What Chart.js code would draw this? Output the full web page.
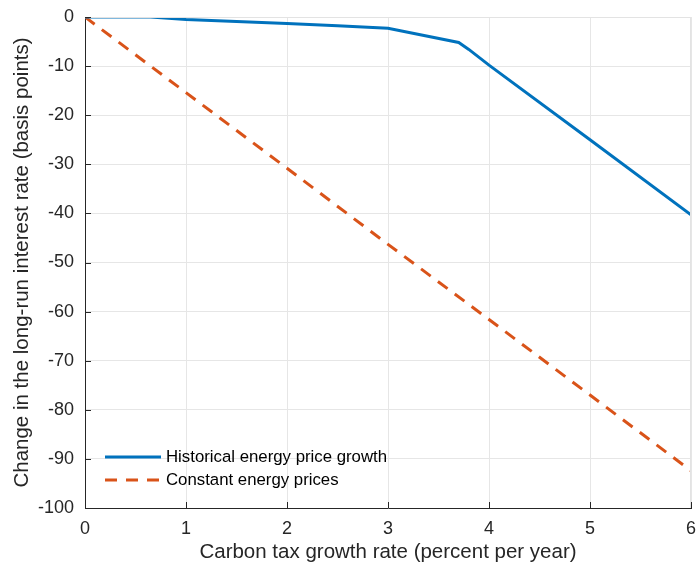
<!DOCTYPE html>
<html>
<head>
<meta charset="utf-8">
<script src="https://cdn.jsdelivr.net/npm/chart.js@4"></script>
<style>
  html, body { margin: 0; padding: 0; background: #fff; }
  #wrap { width: 696px; height: 565px; }
</style>
</head>
<body>
<div id="wrap"><canvas id="chart" width="696" height="565"></canvas></div>
<script>
// Data
const histX = [0, 0.65, 1, 2, 2.5, 3, 3.7, 3.8, 4, 5, 6];
const histY = [0, 0, -0.5, -1.3, -1.8, -2.3, -5.2, -6.6, -9.8, -25, -40.3];
const constX = [0, 1, 2, 3, 4, 5, 6];
const constY = [0, -15.4, -30.8, -46.3, -61.6, -77, -92.4];
const xTicks = [0, 1, 2, 3, 4, 5, 6];
const yTicks = [0, -10, -20, -30, -40, -50, -60, -70, -80, -90, -100];

const seriesNames = ['Historical energy price growth', 'Constant energy prices'];
const blue = '#0072BD';
const orange = '#D95319';
const axisColor = '#262626';
const FONT = '"Liberation Sans", Arial, Helvetica, sans-serif';

const toPoints = (xs, ys) => xs.map((x, i) => ({ x: x, y: ys[i] }));

// inward ticks + box + legend inside the plot (MATLAB look)
const matlabBits = {
  id: 'matlabBits',
  afterDraw(chart) {
    const { ctx, chartArea: a, scales } = chart;
    ctx.save();
    // light box on top / right
    ctx.strokeStyle = '#e3e3e3';
    ctx.lineWidth = 1;
    ctx.beginPath();
    ctx.moveTo(a.left, a.top + 0.5);
    ctx.lineTo(a.right - 0.5, a.top + 0.5);
    ctx.lineTo(a.right - 0.5, a.bottom);
    ctx.stroke();
    // inward ticks
    ctx.strokeStyle = axisColor;
    ctx.beginPath();
    xTicks.forEach(v => {
      const px = Math.round(scales.x.getPixelForValue(v)) + 0.5;
      ctx.moveTo(px, a.bottom);
      ctx.lineTo(px, a.bottom - 6);
    });
    yTicks.forEach(v => {
      const py = Math.round(scales.y.getPixelForValue(v)) + 0.5;
      ctx.moveTo(a.left, py);
      ctx.lineTo(a.left + 6, py);
    });
    ctx.stroke();
    // legend
    const lx = a.left + 20, lw = 56;
    const rows = [a.bottom - 51, a.bottom - 28];
    ctx.lineWidth = 3;
    ctx.strokeStyle = blue;
    ctx.setLineDash([]);
    ctx.beginPath();
    ctx.moveTo(lx, rows[0]); ctx.lineTo(lx + lw, rows[0]);
    ctx.stroke();
    ctx.strokeStyle = orange;
    ctx.setLineDash([12, 9]);
    ctx.beginPath();
    ctx.moveTo(lx, rows[1]); ctx.lineTo(lx + lw, rows[1]);
    ctx.stroke();
    ctx.setLineDash([]);
    ctx.fillStyle = '#000';
    ctx.font = '16.8px ' + FONT;
    ctx.textBaseline = 'middle';
    ctx.textAlign = 'left';
    ctx.fillText(seriesNames[0], lx + lw + 5, rows[0]);
    ctx.fillText(seriesNames[1], lx + lw + 5, rows[1]);
    ctx.restore();
  }
};

new Chart(document.getElementById('chart'), {
  type: 'line',
  data: {
    datasets: [
      {
        label: seriesNames[0],
        data: toPoints(histX, histY),
        borderColor: blue,
        borderWidth: 3,
        pointRadius: 0,
        fill: false,
        tension: 0
      },
      {
        label: seriesNames[1],
        data: toPoints(constX, constY),
        borderColor: orange,
        borderWidth: 3,
        borderDash: [12, 9],
        pointRadius: 0,
        fill: false,
        tension: 0
      }
    ]
  },
  options: {
    responsive: false,
    animation: false,
    events: [],
    layout: { padding: { top: 17, right: 5, left: 0, bottom: 0 } },
    plugins: {
      legend: { display: false },
      tooltip: { enabled: false }
    },
    scales: {
      x: {
        type: 'linear',
        min: 0,
        max: 6,
        afterBuildTicks: s => { s.ticks = xTicks.map(v => ({ value: v })); },
        afterFit: s => { s.height = 57; s.paddingLeft = 0; s.paddingRight = 0; },
        border: { color: axisColor, width: 1 },
        grid: { color: '#e6e6e6', drawTicks: false },
        ticks: {
          color: axisColor,
          font: { family: FONT, size: 18 },
          padding: 10,
          maxRotation: 0
        },
        title: {
          display: true,
          text: 'Carbon tax growth rate (percent per year)',
          color: axisColor,
          font: { family: FONT, size: 20.5 },
          padding: { top: 0, bottom: 0 }
        }
      },
      y: {
        type: 'linear',
        min: -100,
        max: 0,
        afterBuildTicks: s => { s.ticks = yTicks.map(v => ({ value: v })); },
        afterFit: s => { s.width = 85; s.paddingTop = 0; s.paddingBottom = 0; },
        border: { color: axisColor, width: 1 },
        grid: { color: '#e6e6e6', drawTicks: false },
        ticks: {
          color: axisColor,
          font: { family: FONT, size: 18 },
          padding: 11
        },
        title: {
          display: true,
          text: 'Change in the long-run interest rate (basis points)',
          color: axisColor,
          font: { family: FONT, size: 20.5 },
          padding: { top: 10, bottom: 4 }
        }
      }
    }
  },
  plugins: [matlabBits]
});
</script>
</body>
</html>
